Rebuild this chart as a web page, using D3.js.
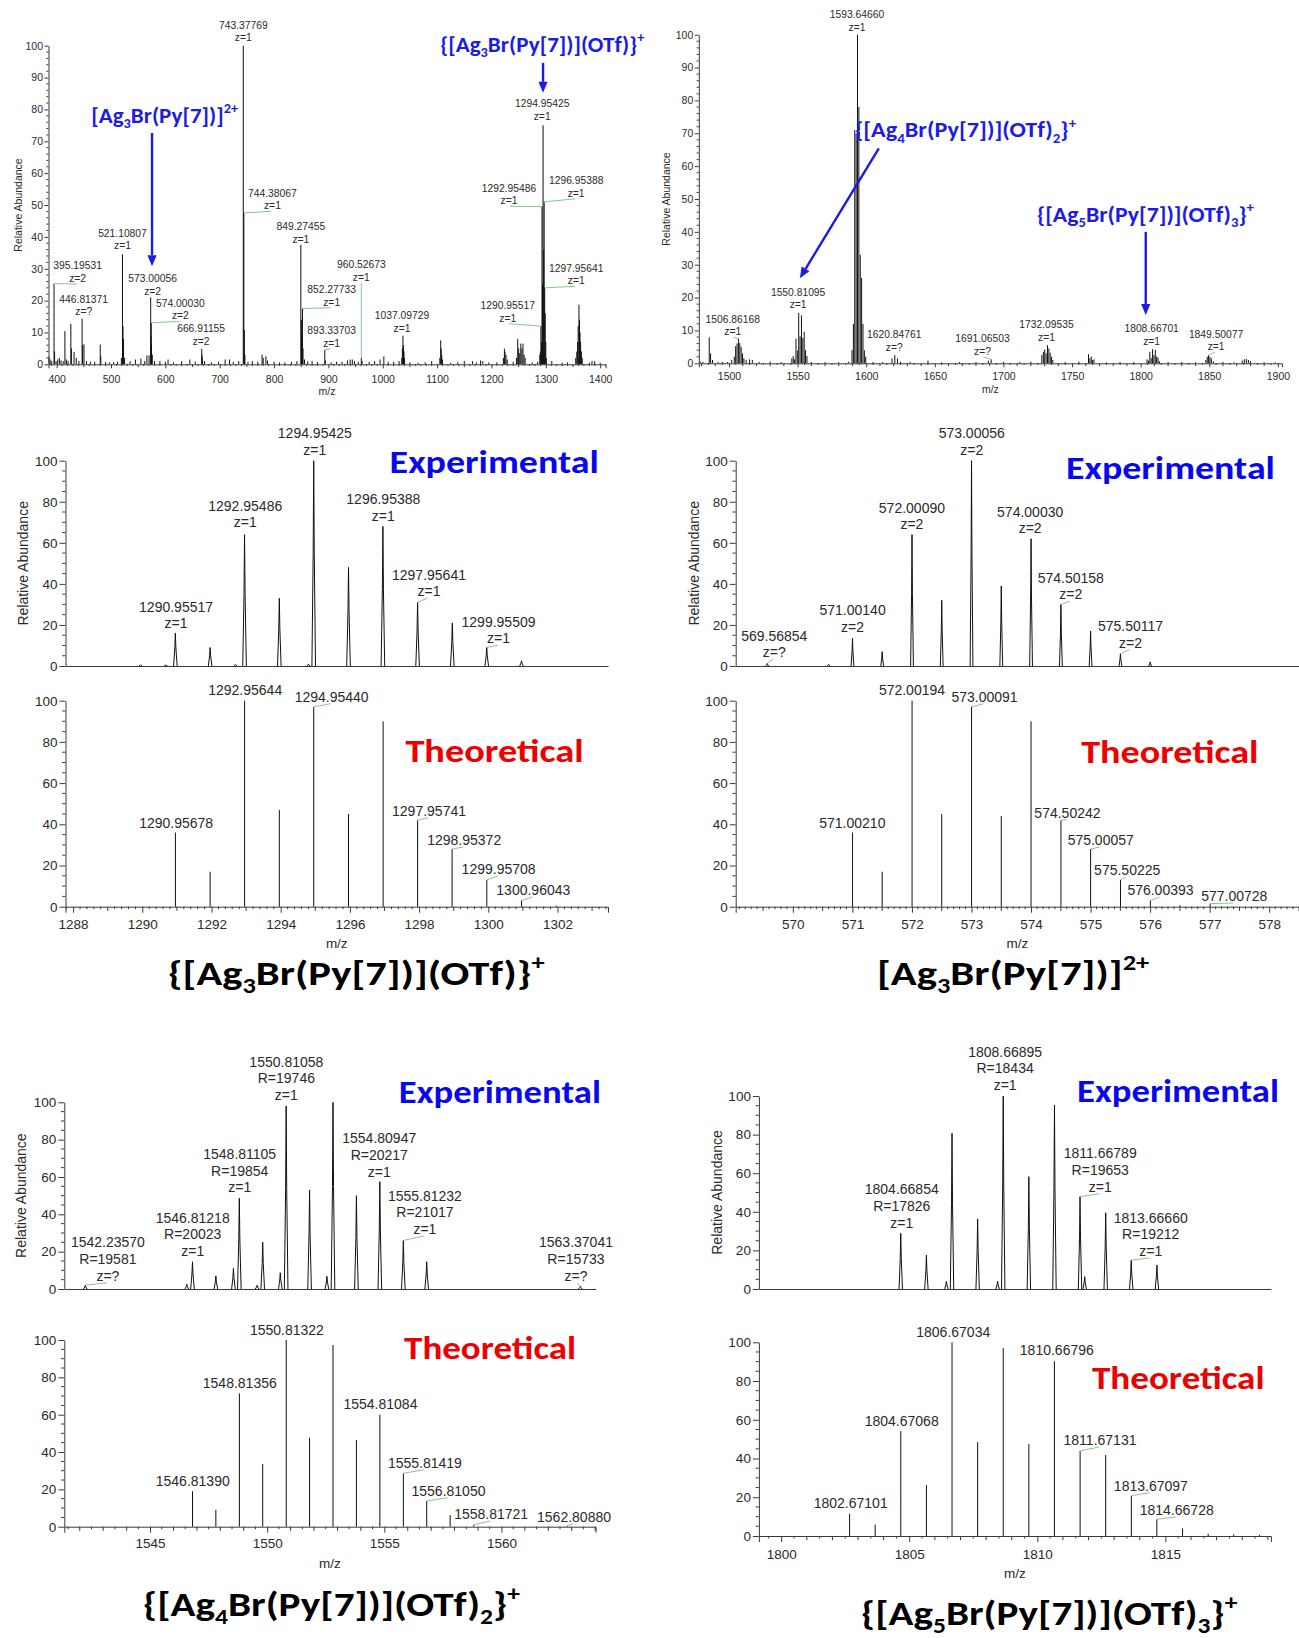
<!DOCTYPE html>
<html>
<head>
<meta charset="utf-8">
<script src="https://cdn.jsdelivr.net/npm/d3@7"></script>
<style>
  html, body { margin: 0; padding: 0; background: #fff; }
  svg { display: block; }
</style>
</head>
<body>
<script>
// ================= data =================
// Full scan, low mass range: [m/z, relative abundance]
const scanLow = [
  [386,2.4],[388,1.5],[391,1],[395.19531,25.3],[396.2,4],[399,1],[402,1.5],[405,2],[408,1.2],[412,1],
  [415.2,10.4],[418,1.5],[421,1],[426.1,12.7],[427.1,5],[432,3.9],[436,2],[441,1],[446.81371,14.3],[447.8,6],
  [450.3,6.3],[455,1],[462,0.8],[470,0.8],[480.2,6.2],[481.2,2.5],[490,0.7],[497,0.6],[505,0.7],[512,0.8],
  [519,2],[521.10807,34.5],[522.1,12],[523.1,8],[525,2],[535,1],[545,1.5],[555,1.8],[562,1],[566,2.8],
  [570,2.8],[573.00056,21],[573.5,9],[574.00030,13],[574.5,6],[576,3],[580,1],[590,1],[600,0.8],[605,1.5],
  [615,0.6],[630,1],[645,1.5],[655,0.8],[666.91155,4.9],[667.4,3],[668,2],[672,1],[685,0.6],[698,0.8],
  [710,1.5],[718,1.5],[725,0.8],[735,1],[743.37769,100],[744.38067,47.5],[745.38,10.8],[746.4,3],[752,0.8],[760,1],
  [770,0.8],[778,3],[780,2],[785,2.5],[788,1.2],[800,0.8],[810,0.6],[820,0.6],[832,0.8],[842,1],
  [849.27455,37.5],[850.28,14],[851.27,10],[852.27733,17.5],[853.3,5],[856,1.5],[862,1],[870,1],[880,0.7],[893.33703,4.5],
  [894.3,1.2],[905,0.6],[915,0.8],[925,0.8],[935,1.2],[940,1.5],[944,1.5],[948,1],[955,0.8],[960.52673,2],
  [962,1],[975,0.8],[985,1],[995,1.5],[1002,2.5],[1010,0.8],[1020,0.8],[1030,1],[1035,2],[1036.1,5],
  [1037.09729,9],[1038.1,6],[1039.1,4],[1040.1,2],[1050,0.6],[1065,0.5],[1078,0.6],[1090,1],[1105,2],[1106.6,7.5],
  [1107.6,5],[1108.6,3],[1110,1.5],[1125,0.5],[1138,0.6],[1150,1],[1165,1],[1172,0.6],[1180,1.2],[1184,1],
  [1195,0.6],[1210,0.6],[1222,2],[1223.8,4.9],[1225,4],[1226.8,3],[1229,1.5],[1240,0.8],[1246,2],[1248.3,8],
  [1250,5],[1252,3.5],[1254,6.5],[1256,5],[1258,6.5],[1260,3],[1262,2],[1275,0.6],[1285,0.8],[1288.96,3],
  [1289.96,4],[1290.95517,12],[1291.96,7],[1292.95486,49.5],[1293.96,25],[1294.95425,75],[1295.96,36],[1296.95388,51],[1297.95641,24],[1298.96,16],
  [1299.96,7],[1300.96,2],[1311,1],[1330,0.5],[1340,0.6],[1355,2],[1357,4],[1358.5,7],[1359.5,12],[1361,18.7],
  [1362,14],[1363,10],[1364,7],[1365.5,4],[1367,2],[1380,0.5],[1385,1],[1390,1],[1400,0.5]
];
const scanLowLabels = [
  [395.19531,"z=2"],[446.81371,"z=?"],[521.10807,"z=1"],[573.00056,"z=2"],[574.00030,"z=2"],[666.91155,"z=2"],
  [743.37769,"z=1"],[744.38067,"z=1"],[849.27455,"z=1"],[852.27733,"z=1"],[893.33703,"z=1"],[960.52673,"z=1"],
  [1037.09729,"z=1"],[1290.95517,"z=1"],[1292.95486,"z=1"],[1294.95425,"z=1"],[1296.95388,"z=1"],[1297.95641,"z=1"]
];

// Full scan, high mass range
const scanHigh = [
  [1479,0.5],[1481,0.4],[1485.6,7.9],[1486.6,3],[1488,1],[1492,0.4],[1495,0.5],[1499,0.4],[1502,1],[1503.86,2],
  [1504.86,5.2],[1505.86,6],[1506.86168,7.5],[1507.86,6.2],[1508.86,5],[1509.86,3],[1510.86,1.5],[1512.5,1],[1515,1.2],[1517,1],
  [1522,0.4],[1530,0.5],[1538,0.4],[1545.8,1.5],[1546.81,2.2],[1547.81,1.2],[1548.81,7.5],[1549.81,3.9],[1550.81095,15.3],[1551.81,8.2],
  [1552.81,14.6],[1553.81,7.7],[1554.81,9.6],[1555.81,4],[1556.81,2.2],[1560,0.4],[1570,0.4],[1580,0.3],[1587,0.5],[1589.65,4],
  [1590.65,12],[1591.65,71],[1592.65,70],[1593.64660,100],[1594.65,78],[1595.65,33],[1596.65,26],[1597.65,12],[1598.65,4],[1599.65,2],
  [1605,0.4],[1612,0.4],[1618.8,1.5],[1620.84761,2.5],[1622.8,1.5],[1625,0.5],[1632,0.4],[1645,0.8],[1655,0.3],[1668,0.4],
  [1680,0.4],[1689,0.8],[1691.06503,1.2],[1700,0.4],[1712,0.4],[1720,0.5],[1728,2.5],[1729.1,3.5],[1730.1,4.2],[1731.1,3],
  [1732.09535,5.5],[1733.1,4.5],[1734.1,3.2],[1735.1,2],[1736,1],[1745,0.4],[1755,0.5],[1762,2.8],[1763,1.5],[1764,2],
  [1765,1],[1766,1.2],[1775,0.3],[1785,0.4],[1795,0.4],[1804.67,1.2],[1805.67,0.8],[1806.67,3.5],[1807.67,1.6],[1808.66701,4.3],
  [1809.67,2.5],[1810.67,4.1],[1811.67,2.1],[1812.67,1.7],[1813.67,0.6],[1820,0.4],[1830,0.4],[1840,0.3],[1847.5,1],[1848.5,2],
  [1849.50077,2.5],[1850.5,2],[1851.5,1.5],[1853,0.6],[1860,0.4],[1868,0.3],[1874,0.8],[1875.5,1.2],[1877,1.3],[1878.5,1],
  [1880,0.7],[1890,0.3],[1898,0.3]
];
const scanHighLabels = [
  [1506.86168,"z=1"],[1550.81095,"z=1"],[1593.64660,"z=1"],[1620.84761,"z=?"],
  [1691.06503,"z=?"],[1732.09535,"z=1"],[1808.66701,"z=1"],[1849.50077,"z=1"]
];

// {[Ag3Br(Py[7])](OTf)}+ isotope pattern
const expAg3OTf = [
  [1289.95,0.6],[1290.68,0.5],[1290.95517,16],[1291.96,9],[1292.69,0.7],[1292.95486,64],[1293.96,33],[1294.8,0.8],
  [1294.95425,100],[1295.96,48],[1296.95388,68],[1297.95641,31],[1298.96,21],[1299.95509,9],[1300.96,2.5]
];
const expAg3OTfLabels = [
  [1290.95517,"z=1"],[1292.95486,"z=1"],[1294.95425,"z=1"],[1296.95388,"z=1"],[1297.95641,"z=1"],[1299.95509,"z=1"]
];
const theoAg3OTf = [
  [1290.95678,36],[1291.96,17],[1292.95644,100],[1293.96,47],[1294.95440,97],[1295.96,45],[1296.96,90],
  [1297.95741,42],[1298.95372,28],[1299.95708,13],[1300.96043,3],[1301.96,0.6]
];
const theoAg3OTfLabels = [[1290.95678],[1292.95644],[1294.95440],[1297.95741],[1298.95372],[1299.95708],[1300.96043]];

// [Ag3Br(Py[7])]2+ isotope pattern
const expAg3 = [
  [569.56854,1.3],[570.6,0.8],[571.00140,13.5],[571.5,7],[572.00090,64],[572.5,32],[573.00056,100],[573.5,39],
  [574.00030,62],[574.50158,30],[575.0,17],[575.50117,6],[576.0,2]
];
const expAg3Labels = [
  [569.56854,"z=?"],[571.00140,"z=2"],[572.00090,"z=2"],[573.00056,"z=2"],[574.00030,"z=2"],[574.50158,"z=2"],[575.50117,"z=2"]
];
const theoAg3 = [
  [571.00210,36],[571.5,17],[572.00194,100],[572.5,45],[573.00091,97],[573.5,44],[574.0,90],[574.50242,42],
  [575.00057,28],[575.50225,13],[576.00393,3],[576.5,0.7],[577.00728,1.5]
];
const theoAg3Labels = [[571.00210],[572.00194],[573.00091],[574.50242],[575.00057],[575.50225],[576.00393],[577.00728]];

// {[Ag4Br(Py[7])](OTf)2}+ isotope pattern
const expAg4 = [
  [1542.23570,2],[1546.57,2.5],[1546.81218,14.6],[1547.81,7],[1548.56,11],[1548.81105,48.6],[1549.57,2],[1549.81,25],
  [1550.56,8.7],[1550.81058,98],[1551.81,53],[1552.55,6.8],[1552.81,100],[1553.81,50],[1554.80947,57.5],
  [1555.81232,26],[1556.81,14.6],[1563.37041,1.5]
];
const expAg4Labels = [
  [1542.23570,19581,"z=?"],[1546.81218,20023,"z=1"],[1548.81105,19854,"z=1"],[1550.81058,19746,"z=1"],
  [1554.80947,20217,"z=1"],[1555.81232,21017,"z=1"],[1563.37041,15733,"z=?"]
];
const theoAg4 = [
  [1546.81390,19],[1547.81,9],[1548.81356,71.4],[1549.81,33.6],[1550.81322,100],[1551.81,47.7],[1552.81,97.3],
  [1553.81,46.4],[1554.81084,60],[1555.81419,28.6],[1556.81050,13.75],[1557.81,6.25],[1558.81721,1],[1562.80880,0.5]
];
const theoAg4Labels = [[1546.81390],[1548.81356],[1550.81322],[1554.81084],[1555.81419],[1556.81050],[1558.81721],[1562.80880]];

// {[Ag5Br(Py[7])](OTf)3}+ isotope pattern
const expAg5 = [
  [1804.66854,28.8],[1805.67,17.6],[1806.45,4],[1806.67,80.7],[1807.67,36.3],[1808.45,4],[1808.66895,100],
  [1809.67,58.2],[1810.67,95.3],[1811.66789,47.8],[1811.85,6.4],[1812.67,39.5],[1813.66660,15],[1814.67,12.4]
];
const expAg5Labels = [
  [1804.66854,17826,"z=1"],[1808.66895,18434,"z=1"],[1811.66789,19653,"z=1"],[1813.66660,19212,"z=1"]
];
const theoAg5 = [
  [1802.67101,11.4],[1803.67,5.9],[1804.67068,54.2],[1805.67,26.3],[1806.67034,100],[1807.67,48.5],[1808.67,97],
  [1809.67,47.5],[1810.66796,90.2],[1811.67131,43.9],[1812.67,41.8],[1813.67097,20.8],[1814.66728,8.6],
  [1815.67,3.8],[1816.67,1.2],[1817.67,0.9],[1818.67,0.5]
];
const theoAg5Labels = [[1802.67101],[1804.67068],[1806.67034],[1810.66796],[1811.67131],[1813.67097],[1814.66728]];

// Ion formulas: [text, "sub" | "sup" | undefined]
const ionAg3OTf = [["{[Ag"],["3","sub"],["Br(Py[7])](OTf)}"],["+","sup"]];
const ionAg3    = [["[Ag"],["3","sub"],["Br(Py[7])]"],["2+","sup"]];
const ionAg4    = [["{[Ag"],["4","sub"],["Br(Py[7])](OTf)"],["2","sub"],["}"],["+","sup"]];
const ionAg5    = [["{[Ag"],["5","sub"],["Br(Py[7])](OTf)"],["3","sub"],["}"],["+","sup"]];

// ================= layout (label placement, px offsets from peak tip) =================
const scanLowLabelPos = [[23.6,-1.7,1],[1.6,-3.7,0],[0,-5,0],[1.9,-2.7,0],[29.1,-3.6,1],[-0.6,-3.7,0],[0,-4.4,0],
  [28.6,-3.7,1],[0,-2,0],[29.2,-2.8,1],[6.8,-3.3,1],[0,-77,1],[-0.9,-4,0],[-33.1,-4.3,1],[-33,-2.3,1],[-0.9,-5.4,0],[32,-5,1],[31.5,-3.5,1]];
const scanHighLabelPos = [[-5.6,-3.4,1],[-0.6,-4.7,0],[-0.5,-4,0],[-0.6,-4.3,0],[-8.7,-4.4,1],[-1,-4.5,0],[-0.9,-4.2,0],[7.5,-5,1]];
const expAg3OTfPos  = [[0.7,-4.9,0],[0.7,-7.3,0],[1.1,-6,0],[0.4,-5.7,0],[11.4,-6.4,1],[11.8,-4.2,1]];
const theoAg3OTfPos = [[0.7,-4.8,0],[0.6,-5.7,0],[17.9,-5.2,1],[11.4,-4.5,1],[12.1,-4,1],[11.8,-5.6,1],[11.8,-5.5,1]];
const expAg3Pos  = [[7.1,-6.3,1],[0.1,-6.6,0],[-0.1,-5.6,0],[0.2,-6,0],[-0.9,-5.4,0],[9.9,-5.4,1],[10.1,-6,1]];
const theoAg3Pos = [[-0.2,-4.8,0],[-0.1,-5.7,0],[13,-5.2,1],[6.5,-2.5,1],[10.1,-4,1],[6.7,-4.9,1],[10.1,-5.5,1],[24.2,-2.6,1]];
const expAg4Pos  = [[22.6,-4.6,1],[0.2,-5.7,0],[0.4,-6,0],[0.2,-6,0],[-0.6,-5,0],[21.6,-6.5,1],[-4.4,-5.5,1]];
const theoAg4Pos = [[0.2,-5.5,0],[0.4,-5.1,0],[0.7,-5,0],[0.6,-5.4,0],[21.5,-5.6,1],[21.8,-5.3,1],[17.4,-5.8,1],[6.8,-4,1]];
const expAg5Pos  = [[1,-5.7,0],[1.9,-6,0],[20.2,-5,1],[19.5,-4,1]];
const theoAg5Pos = [[1.1,-6.2,0],[0.9,-5,0],[1.2,-5.6,0],[2.4,-6.3,0],[19.9,-6,1],[19.5,-5,1],[19.9,-4.3,1]];

// ================= drawing =================
const W = 1299, H = 1638;
const INK = "#111", AXIS = "#3a3a3a", TXT = "#2a2a2a", LEAD = "#88c888";
const SANS = "'Liberation Sans', Arial, Helvetica, sans-serif";
const HEAVY = "Carlito, Calibri, Lato, 'Open Sans', sans-serif";
const BLUE = "#1c1ce6", EXP_BLUE = "#0808ee", RED = "#ee0000";

const svg = d3.select("body").append("svg").attr("width", W).attr("height", H);
svg.append("rect").attr("width", W).attr("height", H).attr("fill", "#fff");

function stepValues(d0, d1, step) {
  const k0 = Math.ceil(d0 / step - 1e-9), k1 = Math.floor(d1 / step + 1e-9);
  return d3.range(k0, k1 + 1).map(k => +(k * step).toFixed(6));
}
const isMult = (v, s) => Math.abs(v / s - Math.round(v / s)) < 1e-6;

function drawPanel(o) {
  const x = d3.scaleLinear().domain(o.xDomain).range(o.xRange);
  const y = d3.scaleLinear().domain([0, 100]).range(o.yRange);
  const g = svg.append("g");
  const [xa, xb] = o.xRange, y0 = o.yRange[0];

  // spectrum: centroid sticks or narrow profile peaks
  if (o.mode === "stick") {
    g.append("g").selectAll("line").data(o.peaks).join("line")
      .attr("x1", d => x(d[0])).attr("x2", d => x(d[0]))
      .attr("y1", y0).attr("y2", d => y(d[1]))
      .attr("stroke", INK).attr("stroke-width", 1);
  } else {
    const line = d3.line();
    g.append("g").selectAll("path").data(o.peaks).join("path")
      .attr("d", d => line([[x(d[0]) - o.hw, y0], [x(d[0]) - o.hw * 0.3, y(d[1] * 0.55)],
        [x(d[0]), y(d[1])], [x(d[0]) + o.hw * 0.3, y(d[1] * 0.55)], [x(d[0]) + o.hw, y0]]))
      .attr("fill", "none").attr("stroke", INK).attr("stroke-width", 1);
  }

  // y axis
  const ya = g.append("g").attr("transform", `translate(${xa},0)`)
    .call(d3.axisLeft(y).tickValues(d3.range(0, 101, o.yMajor)).tickSize(o.tickY)
      .tickSizeOuter(0).tickPadding(o.padY));
  ya.selectAll("path, line").attr("stroke", AXIS);
  ya.selectAll("text").attr("font-family", SANS).attr("font-size", o.tickFont).attr("fill", TXT);
  g.append("g").selectAll("line")
    .data(d3.range(0, 101, o.yMinor).filter(v => v % o.yMajor !== 0)).join("line")
    .attr("x1", xa - o.tickY * 0.55).attr("x2", xa)
    .attr("y1", d => y(d)).attr("y2", d => y(d)).attr("stroke", AXIS);

  // x axis
  const xAxis = d3.axisBottom(x).tickSizeOuter(0);
  if (o.xLabels) xAxis.tickValues(o.xLabels).tickSize(o.tickX).tickPadding(o.padX).tickFormat(d3.format("d"));
  else xAxis.tickValues([]);
  const xg = g.append("g").attr("transform", `translate(0,${y0})`).call(xAxis);
  xg.selectAll("path, line").attr("stroke", AXIS);
  xg.selectAll("text").attr("font-family", SANS).attr("font-size", o.tickFont).attr("fill", TXT);
  if (o.xLabels) {
    const minor = stepValues(o.xDomain[0], o.xDomain[1], o.xMinor)
      .filter(v => !o.xLabels.some(l => Math.abs(l - v) < 1e-6));
    g.append("g").selectAll("line").data(minor).join("line")
      .attr("x1", d => x(d)).attr("x2", d => x(d))
      .attr("y1", y0).attr("y2", d => y0 + (isMult(d, o.xMid) ? o.tickX * 0.7 : o.tickX * 0.42))
      .attr("stroke", AXIS);
    g.append("text").attr("x", (xa + xb) / 2).attr("y", o.mzBase)
      .attr("text-anchor", "middle").attr("font-family", SANS).attr("font-size", o.tickFont)
      .attr("fill", TXT).text("m/z");
  }

  // y title
  if (o.yTitle) {
    g.append("text")
      .attr("transform", `translate(${xa + o.yTitleOff},${(o.yRange[0] + o.yRange[1]) / 2}) rotate(-90)`)
      .attr("text-anchor", "middle").attr("dominant-baseline", "central")
      .attr("font-family", SANS).attr("font-size", o.yTitle).attr("fill", TXT)
      .text("Relative Abundance");
  }

  // peak annotations
  if (o.labels) {
    o.labels.forEach((L, i) => {
      const mz = L[0];
      const pk = o.peaks.find(p => p[0] === mz);
      const px = x(mz), py = y(pk[1]);
      const [dx, dy, lead] = o.labelPos[i];
      const cx = px + dx, bl = py + dy;
      const lines = [mz.toFixed(5)];
      L.slice(1).forEach(v => lines.push(typeof v === "number" ? "R=" + v : v));
      const n = lines.length;
      if (lead) {
        g.append("line").attr("x1", px).attr("y1", py)
          .attr("x2", cx - Math.sign(dx)).attr("y2", bl + 2)
          .attr("stroke", LEAD).attr("stroke-width", 1);
      }
      lines.forEach((t, j) => {
        g.append("text").attr("x", cx).attr("y", bl - (n - 1 - j) * o.lineH)
          .attr("text-anchor", "middle").attr("font-family", SANS)
          .attr("font-size", o.labelFont).attr("fill", TXT).text(t);
      });
    });
  }
  return { x, y };
}

function richText(parts, left, base, size, color, width) {
  const t = svg.append("text").attr("x", left).attr("y", base)
    .attr("font-family", HEAVY).attr("font-weight", 700)
    .attr("font-size", size).attr("fill", color);
  let shift = 0;
  parts.forEach(([s, kind]) => {
    const off = kind === "sub" ? 0.24 * size : kind === "sup" ? -0.42 * size : 0;
    const sp = t.append("tspan").attr("dy", off - shift).text(s);
    if (kind) sp.attr("font-size", size * 0.62);
    shift = off;
  });
  const bb = t.node().getBBox();
  t.attr("transform", `translate(${left},0) scale(${width / bb.width},1) translate(${-bb.x},0)`);
  return t;
}

function arrow(x1, y1, x2, y2, color) {
  const a = Math.atan2(y2 - y1, x2 - x1), L = 11, hw = 4.6;
  const bx = x2 - L * Math.cos(a), by = y2 - L * Math.sin(a);
  svg.append("line").attr("x1", x1).attr("y1", y1).attr("x2", bx).attr("y2", by)
    .attr("stroke", color).attr("stroke-width", 2.4);
  svg.append("path")
    .attr("d", `M${x2},${y2}L${bx + hw * Math.sin(a)},${by - hw * Math.cos(a)}L${bx - hw * Math.sin(a)},${by + hw * Math.cos(a)}Z`)
    .attr("fill", color);
}

const topStyle = { mode: "stick", yMajor: 10, yMinor: 2, tickY: 4, padY: 1.5, tickFont: 10.5,
  tickX: 4, yTitle: 10.5, yTitleOff: -31, labelFont: 10.3, lineH: 12.5 };
const zoomStyle = { yMajor: 20, yMinor: 5, tickY: 6, padY: 2, tickFont: 13.5, tickX: 6,
  yTitleOff: -42.5, labelFont: 14 };

// ---- full scan, low range ----
const p1 = drawPanel(Object.assign({}, topStyle, {
  xDomain: [385, 1410], xRange: [48.5, 605.6], yRange: [364.3, 45.7], peaks: scanLow,
  xLabels: d3.range(400, 1401, 100), xMinor: 10, xMid: 50, padX: 7, mzBase: 395,
  labels: scanLowLabels, labelPos: scanLowLabelPos
}));
// ---- full scan, high range ----
const p2 = drawPanel(Object.assign({}, topStyle, {
  xDomain: [1478, 1903], xRange: [698.8, 1282], yRange: [363.3, 34.7], peaks: scanHigh,
  xLabels: d3.range(1500, 1901, 50), xMinor: 5, xMid: 10, padX: 5.4, mzBase: 392.5, yTitleOff: -32.7,
  labels: scanHighLabels, labelPos: scanHighLabelPos
}));

// ---- {[Ag3Br(Py[7])](OTf)}+ ----
drawPanel(Object.assign({}, zoomStyle, {
  mode: "profile", hw: 1.8, xDomain: [1287.78, 1303.46], xRange: [65.5, 608], yRange: [666, 460.7],
  peaks: expAg3OTf, yTitle: 14, labels: expAg3OTfLabels, labelPos: expAg3OTfPos, lineH: 16.3
}));
drawPanel(Object.assign({}, zoomStyle, {
  mode: "stick", xDomain: [1287.78, 1303.46], xRange: [65.5, 608], yRange: [906.7, 700.7],
  peaks: theoAg3OTf, xLabels: d3.range(1288, 1303, 2), xMinor: 0.2, xMid: 1, padX: 7, mzBase: 948,
  labels: theoAg3OTfLabels, labelPos: theoAg3OTfPos, lineH: 16.3
}));

// ---- [Ag3Br(Py[7])]2+ ----
drawPanel(Object.assign({}, zoomStyle, {
  mode: "profile", hw: 1.4, xDomain: [569.04, 578.5], xRange: [735.7, 1299], yRange: [666, 460.7],
  peaks: expAg3, yTitle: 14, yTitleOff: -41.4, labels: expAg3Labels, labelPos: expAg3Pos, lineH: 16.3
}));
drawPanel(Object.assign({}, zoomStyle, {
  mode: "stick", xDomain: [569.04, 578.5], xRange: [735.7, 1299], yRange: [906.7, 700.7],
  peaks: theoAg3, xLabels: d3.range(570, 579, 1), xMinor: 0.1, xMid: 0.5, padX: 6.6, mzBase: 948,
  labels: theoAg3Labels, labelPos: theoAg3Pos, lineH: 16.3
}));

// ---- {[Ag4Br(Py[7])](OTf)2}+ ----
drawPanel(Object.assign({}, zoomStyle, {
  mode: "profile", hw: 1.8, xDomain: [1541.34, 1564.02], xRange: [64.3, 595.6], yRange: [1289, 1102.3],
  peaks: expAg4, yTitle: 14, yTitleOff: -43.5, labels: expAg4Labels, labelPos: expAg4Pos, lineH: 16.6
}));
drawPanel(Object.assign({}, zoomStyle, {
  mode: "stick", xDomain: [1541.34, 1564.02], xRange: [64.3, 595.6], yRange: [1526.7, 1340],
  peaks: theoAg4, xLabels: d3.range(1545, 1561, 5), xMinor: 0.5, xMid: 1, padX: 5.6, mzBase: 1568,
  labels: theoAg4Labels, labelPos: theoAg4Pos, lineH: 16.6
}));

// ---- {[Ag5Br(Py[7])](OTf)3}+ ----
drawPanel(Object.assign({}, zoomStyle, {
  mode: "profile", hw: 1.7, xDomain: [1799.13, 1819.12], xRange: [758.9, 1270.9], yRange: [1289, 1096],
  peaks: expAg5, yTitle: 14, yTitleOff: -41.5, labels: expAg5Labels, labelPos: expAg5Pos, lineH: 16.7
}));
drawPanel(Object.assign({}, zoomStyle, {
  mode: "stick", xDomain: [1799.13, 1819.12], xRange: [758.9, 1270.9], yRange: [1536, 1342.3],
  peaks: theoAg5, xLabels: d3.range(1800, 1816, 5), xMinor: 0.5, xMid: 1, padX: 7, mzBase: 1578,
  labels: theoAg5Labels, labelPos: theoAg5Pos, lineH: 16.7
}));

// ---- ion annotations on the full scans ----
richText(ionAg3, 91.2, 122.7, 22, BLUE, 147.2);
arrow(p1.x(575.5), p1.y(72.6), p1.x(575.5), p1.y(30.8), BLUE);
richText(ionAg3OTf, 440.2, 51.7, 22.5, BLUE, 204.3);
arrow(p1.x(1294.9), p1.y(94.6), p1.x(1294.9), p1.y(85.2), BLUE);
richText(ionAg4, 854.9, 137.3, 22.5, BLUE, 221.4);
arrow(p2.x(1609.2), p2.y(65.4), p2.x(1551.65), p2.y(25.9), BLUE);
richText(ionAg5, 1037, 221.7, 22, BLUE, 217.3);
arrow(p2.x(1803.7), p2.y(40), p2.x(1803.7), p2.y(14.7), BLUE);

// ---- panel captions ----
richText([["Experimental"]], 389.6, 473.3, 33, EXP_BLUE, 209.4);
richText([["Experimental"]], 1066, 479, 33, EXP_BLUE, 209);
richText([["Experimental"]], 398.8, 1102.7, 32.5, EXP_BLUE, 202.2);
richText([["Experimental"]], 1077.1, 1102.3, 32.5, EXP_BLUE, 202);
richText([["Theoretical"]], 405.4, 761.7, 33, RED, 178.2);
richText([["Theoretical"]], 1081.2, 762.7, 33, RED, 177.2);
richText([["Theoretical"]], 404.1, 1359.3, 32, RED, 172);
richText([["Theoretical"]], 1092, 1389, 31.5, RED, 172.6);

richText(ionAg3OTf, 167.9, 985, 35, "#000", 377.1);
richText(ionAg3, 876.9, 985, 35, "#000", 272.7);
richText(ionAg4, 143, 1616, 35, "#000", 377.2);
richText(ionAg5, 861.1, 1625, 35, "#000", 376.6);
</script>
</body>
</html>
